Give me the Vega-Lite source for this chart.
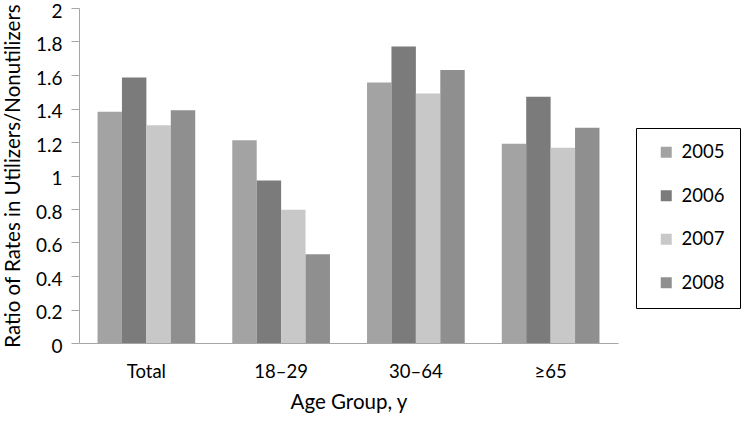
{
  "$schema": "https://vega.github.io/schema/vega-lite/v6.json",
  "width": 539,
  "height": 335,
  "padding": {"left": 3, "top": 2, "right": 5, "bottom": 0},
  "background": "white",
  "config": {
    "font": "Lato",
    "view": {"stroke": null},
    "axis": {"labelFont": "Lato", "titleFont": "Lato", "labelColor": "black", "titleColor": "black", "titleFontWeight": "normal", "domainColor": "#a6a6a6", "tickColor": "#a6a6a6", "grid": false},
    "legend": {"labelFont": "Lato"}
  },
  "data": {
    "values": [
      {"group": "Total", "year": "2005", "ratio": 1.38},
      {"group": "Total", "year": "2006", "ratio": 1.585},
      {"group": "Total", "year": "2007", "ratio": 1.30},
      {"group": "Total", "year": "2008", "ratio": 1.39},
      {"group": "18–29", "year": "2005", "ratio": 1.21},
      {"group": "18–29", "year": "2006", "ratio": 0.97},
      {"group": "18–29", "year": "2007", "ratio": 0.795},
      {"group": "18–29", "year": "2008", "ratio": 0.53},
      {"group": "30–64", "year": "2005", "ratio": 1.555},
      {"group": "30–64", "year": "2006", "ratio": 1.77},
      {"group": "30–64", "year": "2007", "ratio": 1.49},
      {"group": "30–64", "year": "2008", "ratio": 1.63},
      {"group": "≥65", "year": "2005", "ratio": 1.19},
      {"group": "≥65", "year": "2006", "ratio": 1.47},
      {"group": "≥65", "year": "2007", "ratio": 1.165},
      {"group": "≥65", "year": "2008", "ratio": 1.285}
    ]
  },
  "mark": {"type": "bar"},
  "encoding": {
    "x": {
      "field": "group", "type": "nominal", "sort": ["Total", "18–29", "30–64", "≥65"],
      "scale": {"paddingInner": 0.275, "paddingOuter": 0.1375},
      "axis": {"title": "Age Group, y", "labelAngle": 0, "ticks": false, "labelPadding": 19, "labelFontSize": 18.5, "titleFontSize": 20.5, "titlePadding": 12}
    },
    "xOffset": {"field": "year", "type": "nominal", "scale": {"paddingInner": 0, "paddingOuter": 0}},
    "y": {
      "field": "ratio", "type": "quantitative",
      "scale": {"domain": [0, 2], "nice": false},
      "axis": {"title": "Ratio of Rates in Utilizers/Nonutilizers", "format": "~g", "values": [0, 0.2, 0.4, 0.6, 0.8, 1, 1.2, 1.4, 1.6, 1.8, 2], "tickSize": 8, "labelPadding": 9, "labelOffset": 3, "labelFontSize": 19, "titleFontSize": 20.5, "titlePadding": 12}
    },
    "color": {
      "field": "year", "type": "nominal",
      "scale": {"domain": ["2005", "2006", "2007", "2008"], "range": ["#a3a3a3", "#7b7b7b", "#c8c8c8", "#8f8f8f"]},
      "legend": {"title": null, "orient": "none", "legendX": 557, "legendY": 120, "strokeColor": "black", "padding": 15, "symbolType": "square", "symbolSize": 121, "symbolStrokeWidth": 0, "symbolOffset": 6, "labelFontSize": 18.5, "labelOffset": 6, "rowPadding": 24.5, "labelLimit": 200, "fillColor": "white"}
    }
  }
}
